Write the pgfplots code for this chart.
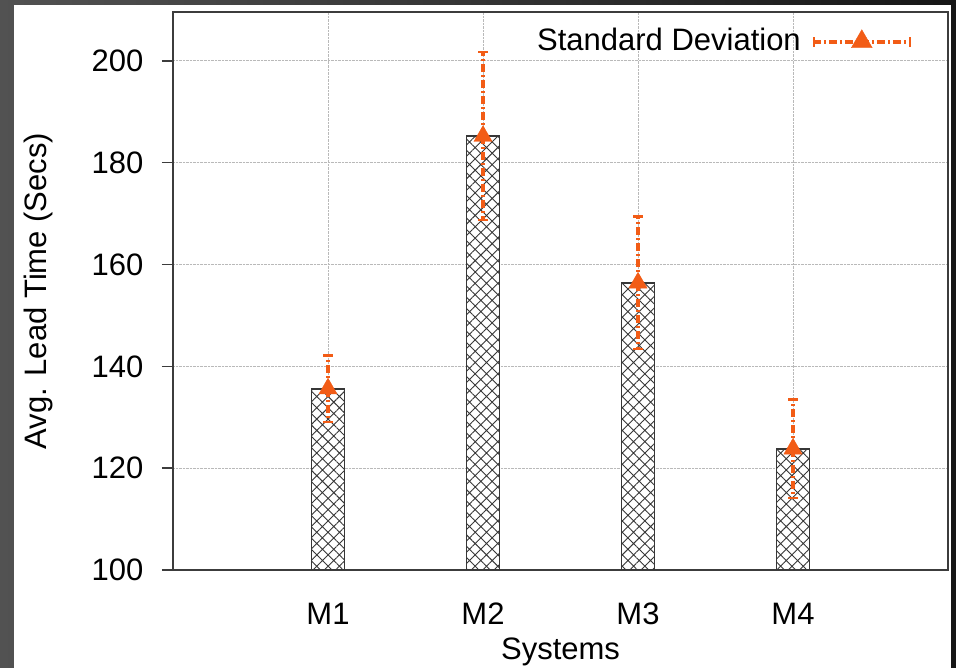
\documentclass[border=0pt]{standalone}
\usepackage{fontspec}
\setmainfont{Liberation Sans}
\usepackage{pgfplots}
\pgfplotsset{compat=1.18}
\usetikzlibrary{patterns.meta}
\definecolor{sdorange}{RGB}{242,92,22}
\definecolor{framegray}{RGB}{60,60,60}
\definecolor{bargray}{RGB}{55,55,55}
\begin{document}
\fontsize{31bp}{37bp}\selectfont
\begin{tikzpicture}
\useasboundingbox (0bp,0bp) rectangle (956bp,668bp);
\shade[left color={rgb,255:red,82;green,82;blue,82}, right color={rgb,255:red,22;green,22;blue,22}] (0bp,0bp) rectangle (956bp,668bp);
\fill[white] (14bp,0bp) rectangle (951bp,663bp);
\begin{axis}[
  at={(173bp,98bp)}, anchor=south west,
  scale only axis, width=775bp, height=558bp,
  xmin=0, xmax=5, ymin=100, ymax=209.6,
  xtick={1,2,3,4}, xticklabels={M1,M2,M3,M4},
  ytick={100,120,140,160,180,200},
  /pgf/number format/assume math mode=true,
  axis line style={framegray, line width=1.6bp},
  tick align=outside, ytick pos=left, xtick pos=bottom,
  major tick length=11bp,
  y tick style={framegray, line width=1.4bp},
  x tick style={draw=none},
  xmajorgrids, ymajorgrids,
  grid style={densely dotted, gray!55, line width=1bp},
  xticklabel style={anchor=base, yshift=-44bp},
  yticklabel style={xshift=-8bp},
  xlabel={Systems}, ylabel={Avg. Lead Time (Secs)},
  xlabel style={at={(axis description cs:0.5,-0.147)}, anchor=center},
  ylabel style={at={(axis description cs:-0.174,0.5)}, anchor=center},
  legend style={at={(axis description cs:1,1)}, anchor=north east, xshift=-35bp, yshift=-14bp, draw=none, fill=none, inner sep=0pt, nodes={inner xsep=10bp}},
  legend plot pos=right,
  legend cell align=right,
]
\addplot[forget plot, ybar, bar width=33bp, draw=bargray, line width=1.6bp, fill=white,
  postaction={pattern={Hatch[angle=45,distance=8bp,line width=0.9bp]}, pattern color=bargray}]
  coordinates {(1,135.6) (2,185.2) (3,156.4) (4,123.8)};
\addplot[only marks, mark=triangle*, mark size=10.5bp, color=sdorange,
  legend image code/.code={
    \draw[sdorange, line width=4bp, dash pattern=on 8bp off 3bp on 2bp off 3bp] (0bp,0bp) -- (98bp,0bp);
    \draw[sdorange, line width=2.5bp] (1bp,-5bp) -- (1bp,5bp) (97bp,-5bp) -- (97bp,5bp);
    \fill[sdorange] (49bp,0bp) +(90:12bp) -- +(210:12bp) -- +(330:12bp) -- cycle;
  },
  error bars/.cd, y dir=both, y explicit,
  error bar style={line width=4bp, dash pattern=on 8bp off 3bp on 2bp off 3bp},
  error mark options={rotate=90, mark size=5bp, line width=2.5bp, solid}]
  coordinates {(1,135.6) +- (0,6.5) (2,185.2) +- (0,16.5) (3,156.4) +- (0,13) (4,123.8) +- (0,9.7)};
\addlegendentry{Standard Deviation}
\end{axis}
\end{tikzpicture}
\end{document}
